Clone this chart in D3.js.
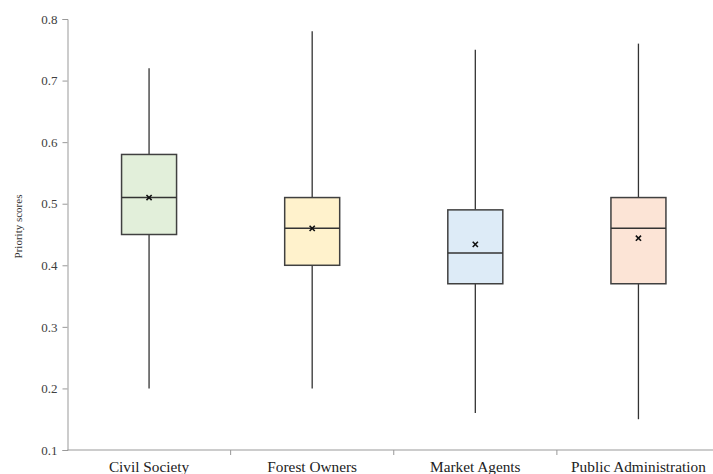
<!DOCTYPE html>
<html>
<head>
<meta charset="utf-8">
<script src="https://cdn.jsdelivr.net/npm/d3@7"></script>
<style>
  body { margin: 0; background: #fff; }
</style>
</head>
<body>
<svg id="chart" width="713" height="474"></svg>
<script>
// values
const groups = ["Civil Society", "Forest Owners", "Market Agents", "Public Administration"];
const mins    = [0.20, 0.20, 0.16, 0.15];
const q1s     = [0.45, 0.40, 0.37, 0.37];
const medians = [0.51, 0.46, 0.42, 0.46];
const q3s     = [0.58, 0.51, 0.49, 0.51];
const maxs    = [0.72, 0.78, 0.75, 0.76];
const means   = [0.51, 0.46, 0.434, 0.444];
const fills   = ["#e2efda", "#fff2cc", "#ddebf7", "#fce4d6"];
const yTicks  = [0.1, 0.2, 0.3, 0.4, 0.5, 0.6, 0.7, 0.8];

const svg = d3.select("#chart")
  .attr("font-family", "'Liberation Serif', 'DejaVu Serif', serif");
const margin = {top: 19, right: -7, bottom: 24, left: 67.5};
const width = +svg.attr("width") - margin.left - margin.right;
const height = +svg.attr("height") - margin.top - margin.bottom;

const x = d3.scaleBand().domain(groups).range([0, width]).padding(0);
const y = d3.scaleLinear().domain([0.1, 0.8]).range([height, 0]);

const g = svg.append("g").attr("transform", `translate(${margin.left},${margin.top})`);

// y axis
const yAxis = g.append("g")
  .call(d3.axisLeft(y).tickValues(yTicks).tickFormat(d3.format(".1f")).tickSize(5).tickPadding(5));
yAxis.select(".domain").attr("stroke", "#999");
yAxis.selectAll(".tick line").attr("stroke", "#999");
yAxis.selectAll(".tick text").attr("font-size", 13).attr("fill", "#404040")
  .attr("font-family", "'Liberation Serif', serif");

// x axis: ticks on band edges
const xAxis = g.append("g").attr("transform", `translate(0,${height})`);
xAxis.append("line").attr("x1", 0).attr("x2", width).attr("stroke", "#999").attr("stroke-width", 1.2);
xAxis.selectAll(".edge").data(groups.slice(1)).enter().append("line")
  .attr("x1", d => x(d)).attr("x2", d => x(d))
  .attr("y1", 0).attr("y2", 5).attr("stroke", "#999");
xAxis.selectAll(".lbl").data(groups).enter().append("text")
  .attr("x", d => x(d) + x.bandwidth() / 2)
  .attr("y", 22)
  .attr("text-anchor", "middle")
  .attr("font-size", 15.3)
  .attr("fill", "#222")
  .text(d => d);

// y title
svg.append("text")
  .attr("transform", `translate(22,${margin.top + height / 2 - 8}) rotate(-90)`)
  .attr("text-anchor", "middle")
  .attr("font-size", 11)
  .attr("fill", "#333")
  .text("Priority scores");

// boxes
const boxW = 55;
const boxes = g.selectAll(".box").data(groups).enter().append("g")
  .attr("class", "box")
  .attr("transform", d => `translate(${x(d) + x.bandwidth() / 2},0)`);

boxes.append("line")
  .attr("y1", (d, i) => y(mins[i])).attr("y2", (d, i) => y(q1s[i]))
  .attr("stroke", "#333").attr("stroke-width", 1.3);
boxes.append("line")
  .attr("y1", (d, i) => y(q3s[i])).attr("y2", (d, i) => y(maxs[i]))
  .attr("stroke", "#333").attr("stroke-width", 1.3);
boxes.append("rect")
  .attr("x", -boxW / 2).attr("width", boxW)
  .attr("y", (d, i) => y(q3s[i]))
  .attr("height", (d, i) => y(q1s[i]) - y(q3s[i]))
  .attr("fill", (d, i) => fills[i])
  .attr("stroke", "#404040").attr("stroke-width", 1.5);
boxes.append("line")
  .attr("x1", -boxW / 2).attr("x2", boxW / 2)
  .attr("y1", (d, i) => y(medians[i])).attr("y2", (d, i) => y(medians[i]))
  .attr("stroke", "#333").attr("stroke-width", 1.5);
boxes.append("path")
  .attr("d", (d, i) => {
    const m = y(means[i]), s = 2.6;
    return `M${-s},${m - s}L${s},${m + s}M${-s},${m + s}L${s},${m - s}`;
  })
  .attr("stroke", "#111").attr("stroke-width", 1.6);
</script>
</body>
</html>
